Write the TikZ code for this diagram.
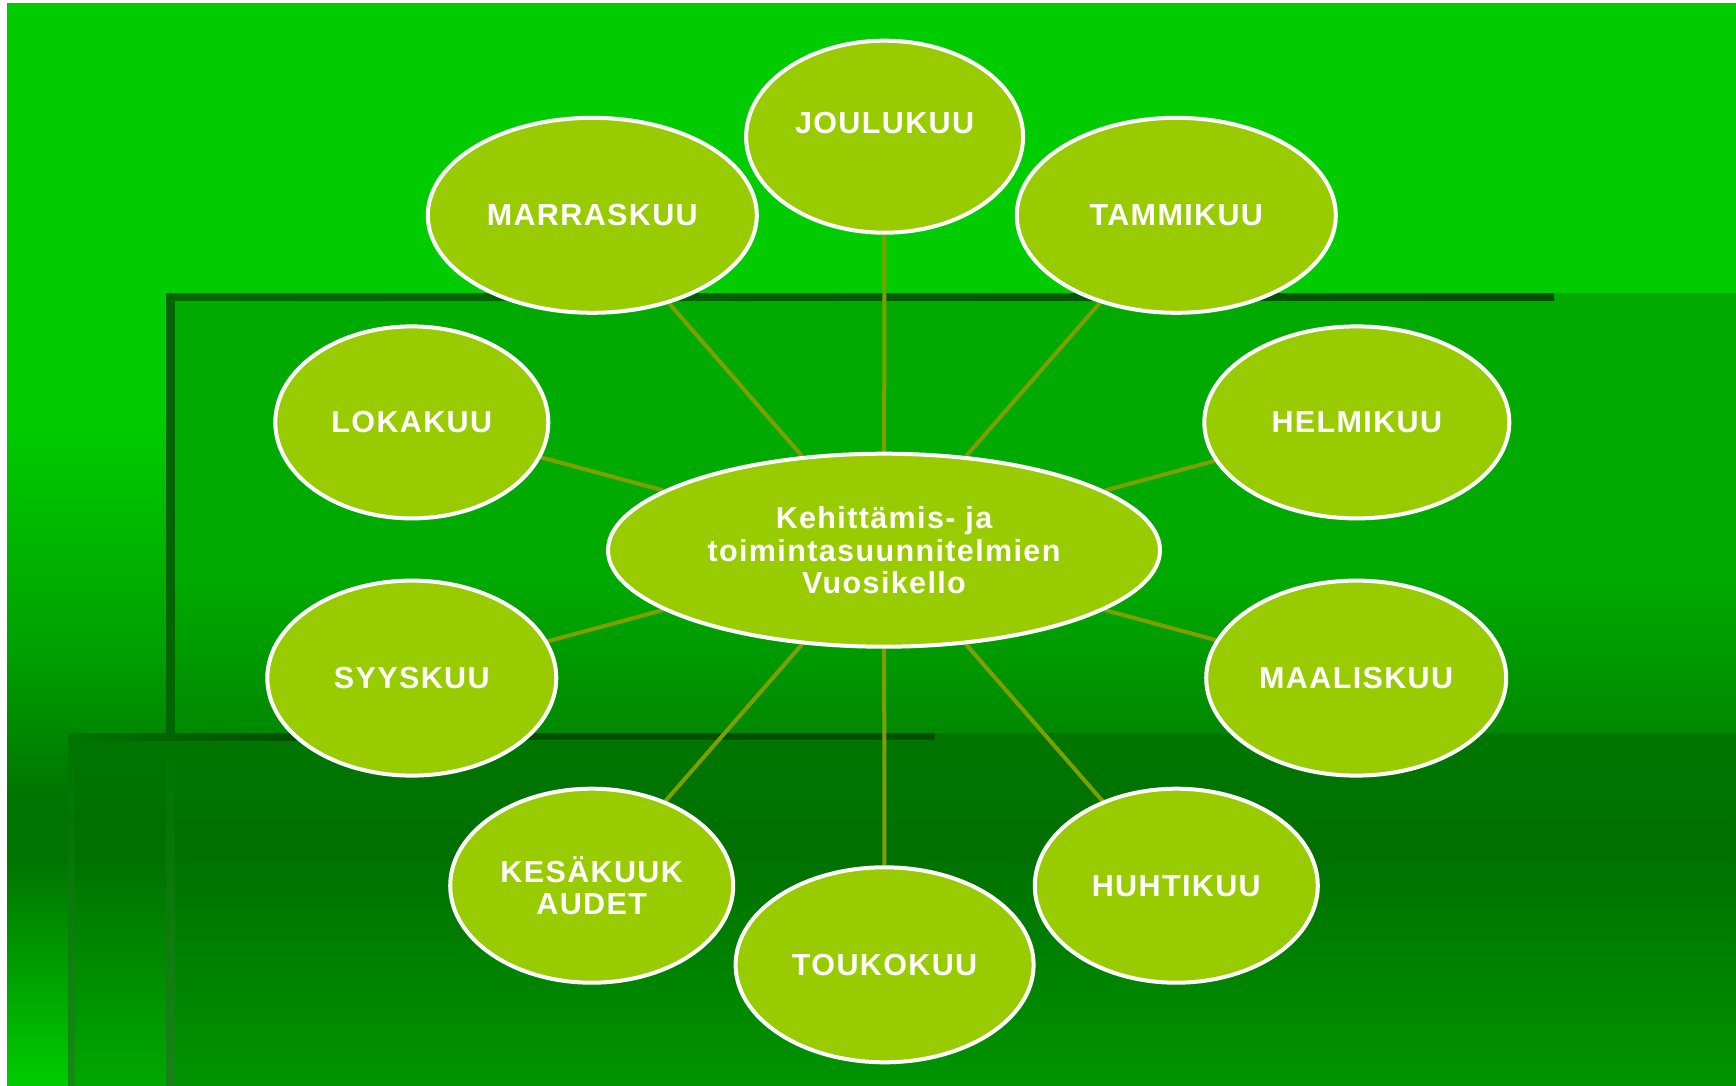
\documentclass[tikz,border=0pt]{standalone}
\usepackage{fontspec}
\setmainfont{Liberation Sans}
\newfontfamily\labelfamily[LetterSpace=4.5]{Liberation Sans}
\usetikzlibrary{shapes.geometric}

\definecolor{brightgreen}{HTML}{00CC00}
\definecolor{midgreen}{HTML}{00AA00}
\definecolor{lowgreen}{HTML}{008800}
\definecolor{deepgreen}{HTML}{007000}
\definecolor{deepgreenB}{HTML}{007600}
\definecolor{floorgreen}{HTML}{009400}
\definecolor{sidegreen}{HTML}{00A000}
\definecolor{sidelow}{HTML}{007400}
\definecolor{sidefloor}{HTML}{00A800}
\definecolor{barstart}{HTML}{006A00}
\definecolor{barend}{HTML}{004E00}
\definecolor{barside}{HTML}{006400}
\definecolor{ghostbar}{HTML}{1F801F}
\definecolor{leaf}{HTML}{99CC00}
\definecolor{spokecol}{HTML}{7F9F00}

\newcommand\labelfont{\labelfamily\bfseries\fontsize{30.5}{32.3}\selectfont}

\pgfdeclarelayer{back}
\pgfdeclarelayer{mid}
\pgfsetlayers{back,mid,main}

\begin{document}
\begin{tikzpicture}[x=1pt,y=-1pt,
  month/.style={ellipse, draw=white, line width=4pt, fill=leaf,
    text=white, font=\labelfont, inner sep=0pt, align=center},
  spoke/.style={draw=spokecol, line width=4pt}]
\useasboundingbox (0,0) rectangle (1736,1086);

% ---- months around the centre ----
\node[month, minimum width=552pt, minimum height=193pt] (hub) at (884.0,550.2)
  {Kehittämis- ja\\toimintasuunnitelmien\\Vuosikello};
\node[month, minimum width=277pt, minimum height=192pt] (jou) at (884.6,136.7)
  {\raisebox{3pt}[0pt][0pt]{JOULUKUU}};
\node[month, minimum width=329pt, minimum height=195pt] (mar) at (592.3,215.3) {MARRASKUU};
\node[month, minimum width=319pt, minimum height=195pt] (tam) at (1176.3,215.3) {TAMMIKUU};
\node[month, minimum width=273pt, minimum height=192pt] (lok) at (411.8,422.4) {LOKAKUU};
\node[month, minimum width=305pt, minimum height=192pt] (hel) at (1356.8,422.4) {HELMIKUU};
\node[month, minimum width=289pt, minimum height=195pt] (syy) at (411.8,678.1) {SYYSKUU};
\node[month, minimum width=300pt, minimum height=195pt] (maa) at (1356.2,678.1) {MAALISKUU};
\node[month, minimum width=283pt, minimum height=194pt] (kes) at (591.7,885.7) {KESÄKUUK\\AUDET};
\node[month, minimum width=298pt, minimum height=195pt] (tou) at (884.6,964.8) {TOUKOKUU};
\node[month, minimum width=283pt, minimum height=194pt] (huh) at (1176.3,885.7) {HUHTIKUU};

% ---- spokes ----
\begin{pgfonlayer}{mid}
  \foreach \m in {jou,mar,tam,lok,hel,syy,maa,kes,tou,huh}
    \draw[spoke] (hub) -- (\m);
\end{pgfonlayer}

% ---- backdrop ----
\begin{pgfonlayer}{back}
  \fill[white] (0,0) rectangle (1736,1086);
  \fill[brightgreen] (7,3) rectangle (1736,293);
  % left margin column
  \fill[brightgreen] (7,293) rectangle (166,420);
  \shade[top color=brightgreen, bottom color=sidegreen] (7,419.5) rectangle (166,650);
  \shade[top color=sidegreen, bottom color=sidelow] (7,649.5) rectangle (166,800);
  \fill[sidelow] (7,799.5) rectangle (68,860);
  \shade[top color=sidelow, bottom color=brightgreen] (7,859.5) rectangle (68,1086);
  \shade[top color=sidelow, bottom color=deepgreen] (68,733) rectangle (166,850);
  \shade[top color=deepgreen, bottom color=sidefloor] (68,849.5) rectangle (166,1086);
  % upper panel
  \fill[midgreen] (166,293) rectangle (1736,580);
  \shade[top color=midgreen, bottom color=lowgreen] (166,579.5) rectangle (1736,733);
  % lower panel
  \shade[top color=deepgreenB, bottom color=deepgreen] (166,733) rectangle (1736,850);
  \shade[top color=deepgreen, bottom color=floorgreen] (166,849.5) rectangle (1736,1086);
  % frame bars
  \shade[left color=barstart, right color=barend] (166,293) rectangle (1554,300);
  \fill[barside] (166,293) rectangle (175,733);
  \shade[top color=deepgreenB, bottom color=ghostbar, opacity=0.8] (166,740) rectangle (175,1086);
  \shade[left color=sidelow, right color=barend] (68,733) rectangle (300,740);
  \fill[barend] (299.5,733) rectangle (935,740);
  \shade[top color=deepgreenB, bottom color=ghostbar, opacity=0.7] (68,740) rectangle (75,1086);
\end{pgfonlayer}
\end{tikzpicture}
\end{document}
